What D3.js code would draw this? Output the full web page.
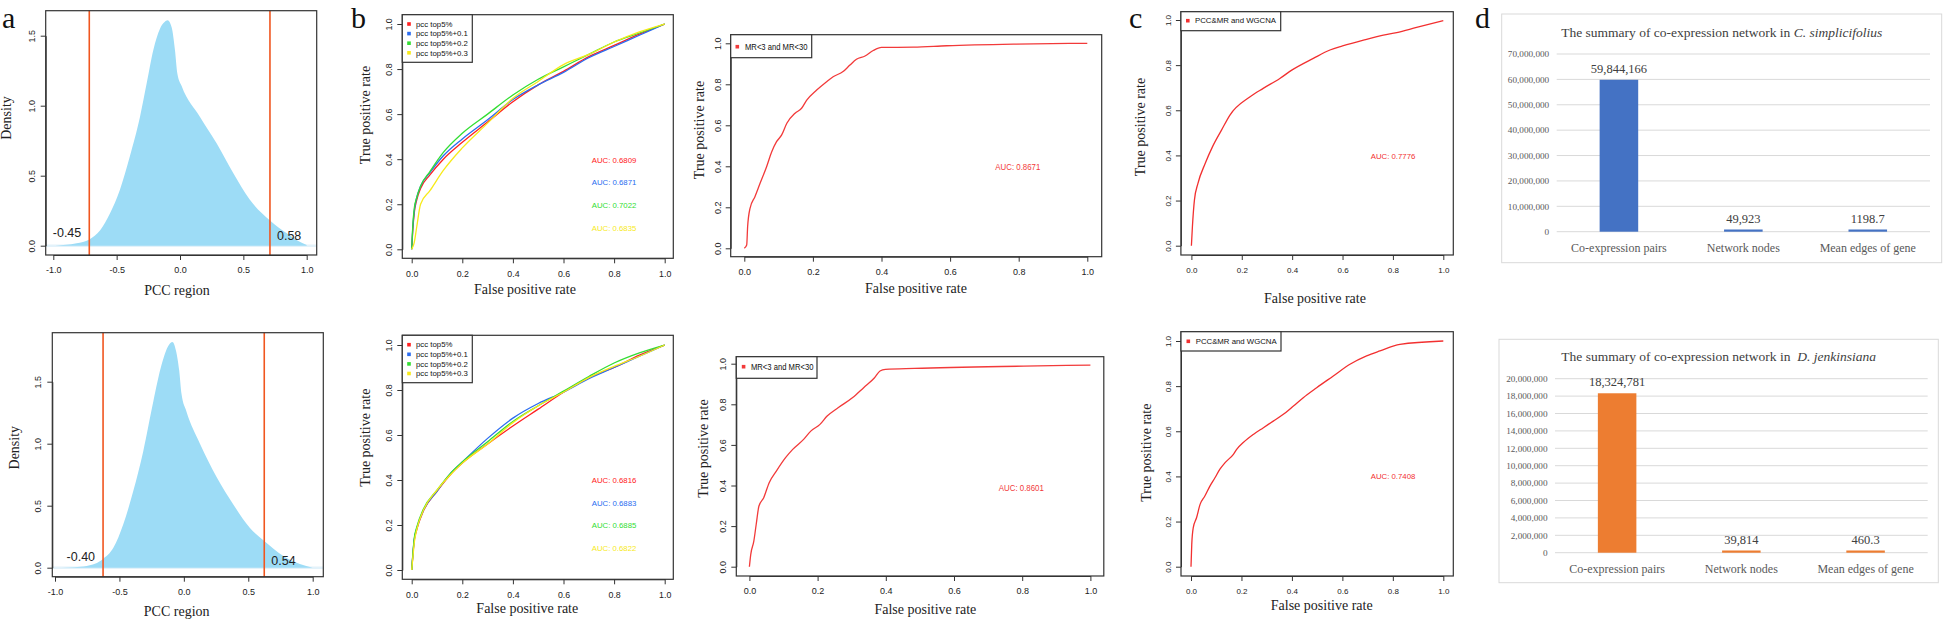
<!DOCTYPE html>
<html><head><meta charset="utf-8">
<script src="https://cdn.jsdelivr.net/npm/d3@7"></script>
<style>body{margin:0;background:#fff}svg{display:block}</style>
</head><body><svg id="c" width="1943" height="622"></svg>
<script>
// ---------- DATA ----------
// panel a: density of PCC (top: C. simplicifolius, bottom: D. jenkinsiana)
const densTopX = [-0.986,-0.9,-0.816,-0.716,-0.63,-0.553,-0.474,-0.395,-0.316,-0.263,-0.21,-0.158,-0.13,-0.097,-0.066,-0.04,-0.021,0.013,0.158,0.29,0.42,0.55,0.71,0.84,0.93,1.0];
const densTopY = [0,0.006,0.017,0.045,0.11,0.23,0.40,0.64,0.92,1.16,1.40,1.55,1.59,1.61,1.56,1.40,1.23,1.14,0.92,0.73,0.52,0.33,0.18,0.09,0.035,0.005];
const densBotX = [-0.948,-0.85,-0.754,-0.627,-0.547,-0.47,-0.392,-0.315,-0.237,-0.172,-0.12,-0.089,-0.061,-0.036,-0.018,0.02,0.125,0.255,0.384,0.513,0.624,0.772,0.9,1.0];
const densBotY = [0,0.004,0.014,0.07,0.16,0.35,0.62,0.94,1.34,1.64,1.79,1.82,1.75,1.59,1.40,1.26,1.0,0.73,0.51,0.32,0.215,0.094,0.03,0];
const cutTop = [-0.716, 0.71];
const cutTopLabels = ["-0.45", "0.58"];
const cutBot = [-0.627, 0.624];
const cutBotLabels = ["-0.40", "0.54"];
const densXTicks = [-1, -0.5, 0, 0.5, 1];
const densYTicks = [0, 0.5, 1, 1.5];

// panel b left: ROC curves [FPR, TPR]
const rocSeries = ["pcc top5%", "pcc top5%+0.1", "pcc top5%+0.2", "pcc top5%+0.3"];
const rocColors = ["#ff2020", "#2a6cf0", "#33dd33", "#f7ea1a"];
const b1Top5  = [[0,0],[0.004,0.08],[0.01,0.16],[0.02,0.22],[0.035,0.27],[0.072,0.33],[0.125,0.40],[0.2,0.475],[0.3,0.565],[0.4,0.655],[0.5,0.73],[0.6,0.79],[0.7,0.855],[0.8,0.905],[0.9,0.955],[1,1]];
const b1Top01 = [[0,0],[0.004,0.09],[0.01,0.17],[0.02,0.23],[0.035,0.28],[0.072,0.34],[0.125,0.415],[0.2,0.49],[0.3,0.575],[0.4,0.665],[0.5,0.73],[0.6,0.785],[0.7,0.85],[0.8,0.9],[0.9,0.95],[1,1]];
const b1Top02 = [[0,0],[0.004,0.1],[0.01,0.18],[0.02,0.23],[0.035,0.28],[0.072,0.345],[0.125,0.43],[0.2,0.515],[0.3,0.6],[0.4,0.685],[0.5,0.755],[0.6,0.81],[0.7,0.865],[0.8,0.92],[0.9,0.96],[1,1]];
const b1Top03 = [[0,0],[0.01,0.03],[0.02,0.1],[0.035,0.2],[0.072,0.26],[0.125,0.35],[0.2,0.45],[0.3,0.56],[0.4,0.67],[0.5,0.745],[0.6,0.82],[0.7,0.865],[0.8,0.92],[0.9,0.965],[1,1]];
const b1Auc = ["AUC: 0.6809", "AUC: 0.6871", "AUC: 0.7022", "AUC: 0.6835"];
const b2Top5  = [[0,0],[0.005,0.07],[0.01,0.13],[0.02,0.18],[0.046,0.262],[0.1,0.35],[0.15,0.42],[0.2,0.475],[0.3,0.56],[0.4,0.64],[0.5,0.715],[0.6,0.79],[0.7,0.855],[0.8,0.9],[0.9,0.955],[1,1]];
const b2Top01 = [[0,0],[0.005,0.075],[0.01,0.135],[0.02,0.185],[0.046,0.265],[0.1,0.35],[0.15,0.425],[0.2,0.48],[0.3,0.585],[0.4,0.675],[0.5,0.74],[0.6,0.79],[0.7,0.85],[0.8,0.9],[0.9,0.95],[1,1]];
const b2Top02 = [[0,0],[0.005,0.08],[0.01,0.14],[0.02,0.19],[0.046,0.27],[0.1,0.355],[0.15,0.425],[0.2,0.48],[0.3,0.57],[0.4,0.66],[0.5,0.73],[0.6,0.795],[0.7,0.86],[0.8,0.92],[0.9,0.965],[1,1]];
const b2Top03 = [[0,0],[0.005,0.06],[0.01,0.12],[0.02,0.18],[0.046,0.265],[0.1,0.355],[0.15,0.42],[0.2,0.475],[0.3,0.56],[0.4,0.655],[0.5,0.73],[0.6,0.79],[0.7,0.855],[0.8,0.905],[0.9,0.95],[1,1]];
const b2Auc = ["AUC: 0.6816", "AUC: 0.6883", "AUC: 0.6885", "AUC: 0.6822"];

// panel b right: MR ROC
const mrLabel = "MR<3 and MR<30";
const b3Roc = [[0,0],[0.007,0.016],[0.0097,0.105],[0.0167,0.195],[0.031,0.252],[0.046,0.317],[0.065,0.398],[0.08,0.471],[0.094,0.52],[0.109,0.553],[0.124,0.61],[0.148,0.659],[0.167,0.683],[0.182,0.723],[0.211,0.772],[0.24,0.813],[0.259,0.837],[0.288,0.862],[0.308,0.894],[0.327,0.922],[0.352,0.938],[0.376,0.965],[0.4,0.98],[0.493,0.981],[0.59,0.988],[0.785,0.996],[1,1]];
const b3Auc = "AUC: 0.8671";
const b4Roc = [[0,0],[0.004,0.061],[0.013,0.126],[0.02,0.209],[0.028,0.299],[0.042,0.34],[0.058,0.414],[0.079,0.471],[0.106,0.537],[0.127,0.578],[0.159,0.627],[0.18,0.668],[0.207,0.701],[0.228,0.742],[0.26,0.783],[0.303,0.833],[0.335,0.882],[0.367,0.931],[0.383,0.964],[0.399,0.972],[0.484,0.977],[0.804,0.988],[1,0.993]];
const b4Auc = "AUC: 0.8601";

// panel c: PCC&MR and WGCNA ROC
const wgLabel = "PCC&MR and WGCNA";
const c1Roc = [[0,0],[0.004,0.084],[0.012,0.202],[0.026,0.276],[0.055,0.365],[0.084,0.439],[0.12,0.513],[0.153,0.579],[0.233,0.66],[0.285,0.697],[0.351,0.741],[0.4,0.779],[0.484,0.83],[0.55,0.867],[0.6,0.885],[0.683,0.911],[0.762,0.933],[0.815,0.944],[0.894,0.967],[1,0.997]];
const c1Auc = "AUC: 0.7776";
const c2Roc = [[0,0],[0.003,0.099],[0.009,0.173],[0.022,0.217],[0.036,0.276],[0.055,0.313],[0.075,0.357],[0.095,0.394],[0.114,0.431],[0.135,0.461],[0.168,0.498],[0.181,0.52],[0.207,0.55],[0.247,0.586],[0.287,0.616],[0.326,0.645],[0.366,0.675],[0.406,0.712],[0.445,0.749],[0.498,0.793],[0.564,0.845],[0.63,0.897],[0.696,0.934],[0.749,0.956],[0.828,0.985],[1,1]];
const c2Auc = "AUC: 0.7408";
const rocTicks = [0, 0.2, 0.4, 0.6, 0.8, 1.0];

// panel d: network summary bars
const dCategories = ["Co-expression pairs", "Network nodes", "Mean edges of gene"];
const dTopValues = [59844166, 49923, 1198.7];
const dTopLabels = ["59,844,166", "49,923", "1198.7"];
const dTopTicks = [0, 10000000, 20000000, 30000000, 40000000, 50000000, 60000000, 70000000];
const dBotValues = [18324781, 39814, 460.3];
const dBotLabels = ["18,324,781", "39,814", "460.3"];
const dBotTicks = [0, 2000000, 4000000, 6000000, 8000000, 10000000, 12000000, 14000000, 16000000, 18000000, 20000000];

// ---------- DRAWING ----------
const svg = d3.select('#c');
const SANS = "'Liberation Sans', Arial, sans-serif";
const SERIF = "'Liberation Serif', 'Times New Roman', serif";

function frame(box, xs, ys, xTicks, yTicks, fs, xPad, yOff) {
  const g = svg.append('g');
  g.append('rect').attr('x', box[0]).attr('y', box[1])
    .attr('width', box[2] - box[0]).attr('height', box[3] - box[1])
    .attr('fill', 'none').attr('stroke', '#333').attr('stroke-width', 1.2);
  const fmt = d => d.toFixed(1);
  const ax = g.append('g').attr('transform', `translate(0,${box[3]})`)
    .call(d3.axisBottom(xs).tickValues(xTicks).tickSize(5).tickSizeOuter(0).tickPadding(xPad).tickFormat(fmt));
  const ay = g.append('g').attr('transform', `translate(${box[0]},0)`)
    .call(d3.axisLeft(ys).tickValues(yTicks).tickSize(5).tickSizeOuter(0).tickFormat(fmt));
  ay.selectAll('.tick text').attr('x', 0).attr('dy', '0.35em').attr('text-anchor', 'middle')
    .attr('transform', `translate(${-yOff},0) rotate(-90)`);
  [ax, ay].forEach(a => {
    a.attr('font-family', SANS).attr('font-size', fs);
    a.selectAll('path,line').attr('stroke', '#333').attr('stroke-width', 1);
    a.selectAll('text').attr('fill', '#222');
  });
  return g;
}

function vTitle(x, y, txt, fs) {
  svg.append('text').attr('transform', `translate(${x},${y}) rotate(-90)`)
    .attr('text-anchor', 'middle').attr('font-family', SERIF).attr('font-size', fs)
    .attr('fill', '#222').text(txt);
}
function hTitle(x, y, txt, fs) {
  svg.append('text').attr('x', x).attr('y', y).attr('text-anchor', 'middle')
    .attr('font-family', SERIF).attr('font-size', fs).attr('fill', '#222').text(txt);
}
function panelLetter(x, y, t) {
  svg.append('text').attr('x', x).attr('y', y).attr('font-family', SERIF)
    .attr('font-size', 30).attr('fill', '#111').text(t);
}

// ---- panel a ----
function densityPanel(cfg) {
  const xs = d3.scaleLinear().domain([-1, 1]).range(cfg.xr);
  const ys = d3.scaleLinear().domain([0, 1.5]).range(cfg.yr);
  const pts = cfg.dx.map((v, i) => [v, cfg.dy[i]]);
  svg.append('line').attr('x1', cfg.box[0]).attr('x2', cfg.box[2])
    .attr('y1', ys(0)).attr('y2', ys(0)).attr('stroke', '#e3f2fa').attr('stroke-width', 2.5);
  svg.append('path').datum(pts)
    .attr('d', d3.area().x(d => xs(d[0])).y0(ys(0)).y1(d => ys(d[1])).curve(d3.curveMonotoneX))
    .attr('fill', '#9ddcf6');
  cfg.cuts.forEach((c, i) => {
    svg.append('line').attr('x1', xs(c)).attr('x2', xs(c)).attr('y1', cfg.box[1]).attr('y2', cfg.box[3])
      .attr('stroke', '#f0561f').attr('stroke-width', 1.6);
    const left = i === 0;
    svg.append('text').attr('x', xs(c) + (left ? -8 : 7)).attr('y', ys(0) - (left ? cfg.ly[0] : cfg.ly[1]))
      .attr('text-anchor', left ? 'end' : 'start').attr('font-family', SANS).attr('font-size', 12.5)
      .attr('fill', '#222').text(cfg.labels[i]);
  });
  frame(cfg.box, xs, ys, densXTicks, densYTicks, 9, 7, 14);
  vTitle(cfg.yt[0], cfg.yt[1], 'Density', 14);
  hTitle(cfg.xt[0], cfg.xt[1], 'PCC region', 14);
}
densityPanel({box: [45.7, 10.7, 316.7, 255], xr: [53.3, 306.7], yr: [245.7, 35.7],
  dx: densTopX, dy: densTopY, cuts: cutTop, labels: cutTopLabels, ly: [9, 5.5],
  yt: [10.5, 118], xt: [177, 294.5]});
densityPanel({box: [52.3, 332.7, 323.3, 576.7], xr: [55, 312.7], yr: [567.7, 381.7],
  dx: densBotX, dy: densBotY, cuts: cutBot, labels: cutBotLabels, ly: [7, 3],
  yt: [18.5, 447.7], xt: [176.7, 616]});
panelLetter(2, 28, 'a');

// ---- ROC panels ----
function rocPanel(cfg) {
  const xs = d3.scaleLinear().domain([0, 1]).range(cfg.xr);
  const ys = d3.scaleLinear().domain([0, 1]).range(cfg.yr);
  const line = d3.line().x(d => xs(d[0])).y(d => ys(d[1])).curve(d3.curveMonotoneX);
  cfg.series.forEach((s, i) => {
    svg.append('path').datum(s).attr('d', line).attr('fill', 'none')
      .attr('stroke', cfg.colors[i]).attr('stroke-width', 1.3);
  });
  frame(cfg.box, xs, ys, rocTicks, rocTicks, cfg.fs, 7, 13);
  // legend
  const lg = cfg.leg;
  svg.append('rect').attr('x', cfg.box[0]).attr('y', cfg.box[1])
    .attr('width', lg.x1 - cfg.box[0]).attr('height', lg.y1 - cfg.box[1])
    .attr('fill', '#fff').attr('stroke', '#333').attr('stroke-width', 1.2);
  cfg.names.forEach((n, i) => {
    const cy = lg.y0 + i * 9.6;
    svg.append('rect').attr('x', lg.sq - 1.8).attr('y', cy - 1.8).attr('width', 3.6).attr('height', 3.6)
      .attr('fill', cfg.colors[i]);
    const t = svg.append('text').attr('x', lg.tx).attr('y', cy).attr('dy', '0.35em')
      .attr('font-family', SANS).attr('font-size', lg.fs).attr('fill', '#111').text(n);
    if (lg.len) t.attr('textLength', lg.len).attr('lengthAdjust', 'spacingAndGlyphs');
  });
  cfg.auc.forEach((a, i) => {
    const t = svg.append('text').attr('x', cfg.aucX).attr('y', cfg.aucY + i * 22.7).attr('dy', '0.35em')
      .attr('font-family', SANS).attr('font-size', cfg.aucFs).attr('fill', cfg.colors[i]).text(a);
    if (cfg.aucLen) t.attr('textLength', cfg.aucLen).attr('lengthAdjust', 'spacingAndGlyphs');
  });
  vTitle(cfg.yt[0], cfg.yt[1], 'True positive rate', 14);
  hTitle(cfg.xt[0], cfg.xt[1], 'False positive rate', 14);
}

rocPanel({box: [402.3, 14.7, 673.3, 258.3], xr: [411.7, 664.7], yr: [249.3, 24], fs: 8.8,
  series: [b1Top5, b1Top01, b1Top02, b1Top03], colors: rocColors, names: rocSeries,
  leg: {x1: 472.3, y1: 62.3, y0: 24, sq: 409, tx: 416, fs: 7.8},
  auc: b1Auc, aucX: 591.7, aucY: 160, aucFs: 7.8, yt: [370, 115], xt: [525, 294]});
rocPanel({box: [402.3, 335.3, 673.3, 579.3], xr: [411.7, 664.7], yr: [570, 345], fs: 8.8,
  series: [b2Top5, b2Top01, b2Top02, b2Top03], colors: rocColors, names: rocSeries,
  leg: {x1: 472.3, y1: 382.7, y0: 344.7, sq: 409, tx: 416, fs: 7.8},
  auc: b2Auc, aucX: 591.7, aucY: 480.3, aucFs: 7.8, yt: [370, 437.7], xt: [527.3, 613.3]});
rocPanel({box: [730.7, 34.7, 1101.7, 256.7], xr: [744.3, 1087.3], yr: [248.3, 43.3], fs: 9,
  series: [b3Roc], colors: ["#f23a3a"], names: [mrLabel],
  leg: {x1: 811.7, y1: 57.7, y0: 46.7, sq: 737.3, tx: 745, fs: 9, len: 62.5},
  auc: [b3Auc], aucX: 995.3, aucY: 166.7, aucFs: 9, aucLen: 45, yt: [704, 130], xt: [916, 293.3]});
rocPanel({box: [736.3, 356.7, 1103.8, 576], xr: [749.4, 1090.4], yr: [566.7, 363.7], fs: 9,
  series: [b4Roc], colors: ["#f23a3a"], names: [mrLabel],
  leg: {x1: 817, y1: 378.3, y0: 366.7, sq: 743.6, tx: 750.9, fs: 9, len: 62.5},
  auc: [b4Auc], aucX: 998.8, aucY: 487.7, aucFs: 9, aucLen: 45, yt: [708, 448.5], xt: [925.4, 614.3]});
panelLetter(351, 28, 'b');

rocPanel({box: [1180.9, 11.7, 1453.3, 255], xr: [1191.4, 1443.3], yr: [245.7, 20], fs: 8,
  series: [c1Roc], colors: ["#f23030"], names: [wgLabel],
  leg: {x1: 1280.7, y1: 30.7, y0: 20.7, sq: 1187.8, tx: 1195, fs: 7.8},
  auc: [c1Auc], aucX: 1370.7, aucY: 156, aucFs: 7.8, yt: [1144.5, 127], xt: [1315, 303.3]});
rocPanel({box: [1181, 331.7, 1453.3, 576], xr: [1191, 1443.3], yr: [566.7, 341], fs: 8,
  series: [c2Roc], colors: ["#f23030"], names: [wgLabel],
  leg: {x1: 1281, y1: 351, y0: 341.3, sq: 1188.3, tx: 1195.7, fs: 7.8},
  auc: [c2Auc], aucX: 1370.7, aucY: 476.7, aucFs: 7.8, yt: [1150.5, 452.7], xt: [1321.7, 610]});
panelLetter(1129, 28, 'c');

// ---- panel d ----
function barPanel(cfg) {
  const g = svg.append('g');
  g.append('rect').attr('x', cfg.box[0]).attr('y', cfg.box[1])
    .attr('width', cfg.box[2] - cfg.box[0]).attr('height', cfg.box[3] - cfg.box[1])
    .attr('fill', '#fff').attr('stroke', '#d9d9d9').attr('stroke-width', 1);
  const t = g.append('text').attr('x', (cfg.box[0] + cfg.box[2]) / 2).attr('y', cfg.titleY)
    .attr('text-anchor', 'middle').attr('font-family', SERIF).attr('font-size', 13.5)
    .attr('fill', '#404040').style('white-space', 'pre');
  t.append('tspan').text(cfg.title);
  t.append('tspan').attr('font-style', 'italic').text(cfg.species);
  const xs = d3.scaleBand().domain(dCategories).range(cfg.xr).paddingInner(0.69).paddingOuter(0.345);
  const ys = d3.scaleLinear().domain([0, d3.max(cfg.ticks)]).range(cfg.yr);
  cfg.ticks.forEach(v => {
    g.append('line').attr('x1', cfg.xr[0]).attr('x2', cfg.xr[1]).attr('y1', ys(v)).attr('y2', ys(v))
      .attr('stroke', '#d9d9d9').attr('stroke-width', 1);
    g.append('text').attr('x', cfg.xr[0] - 7.5).attr('y', ys(v)).attr('dy', '0.35em')
      .attr('text-anchor', 'end').attr('font-family', SERIF).attr('font-size', 9.2)
      .attr('fill', '#595959').text(d3.format(',')(v));
  });
  cfg.values.forEach((v, i) => {
    const h = Math.max(ys(0) - ys(v), 2.2);
    g.append('rect').attr('x', xs(dCategories[i])).attr('width', xs.bandwidth())
      .attr('y', ys(0) - h).attr('height', h).attr('fill', cfg.color);
    g.append('text').attr('x', xs(dCategories[i]) + xs.bandwidth() / 2).attr('y', ys(0) - h - 7)
      .attr('text-anchor', 'middle').attr('font-family', SERIF).attr('font-size', 12.5)
      .attr('fill', '#404040').text(cfg.labels[i]);
    g.append('text').attr('x', xs(dCategories[i]) + xs.bandwidth() / 2).attr('y', ys(0) + 20)
      .attr('text-anchor', 'middle').attr('font-family', SERIF).attr('font-size', 12)
      .attr('fill', '#595959').text(dCategories[i]);
  });
}
barPanel({box: [1501.7, 14, 1941.7, 262.7], xr: [1556.7, 1930], yr: [231.7, 54], ticks: dTopTicks,
  values: dTopValues, labels: dTopLabels, color: '#4472c4', titleY: 36.7,
  title: 'The summary of co-expression network in ', species: 'C. simplicifolius'});
barPanel({box: [1499, 339.3, 1938.3, 582.7], xr: [1555, 1927.7], yr: [552.7, 378.7], ticks: dBotTicks,
  values: dBotValues, labels: dBotLabels, color: '#ed7d31', titleY: 361,
  title: 'The summary of co-expression network in  ', species: 'D. jenkinsiana'});
panelLetter(1475, 28, 'd');
</script></body></html>
